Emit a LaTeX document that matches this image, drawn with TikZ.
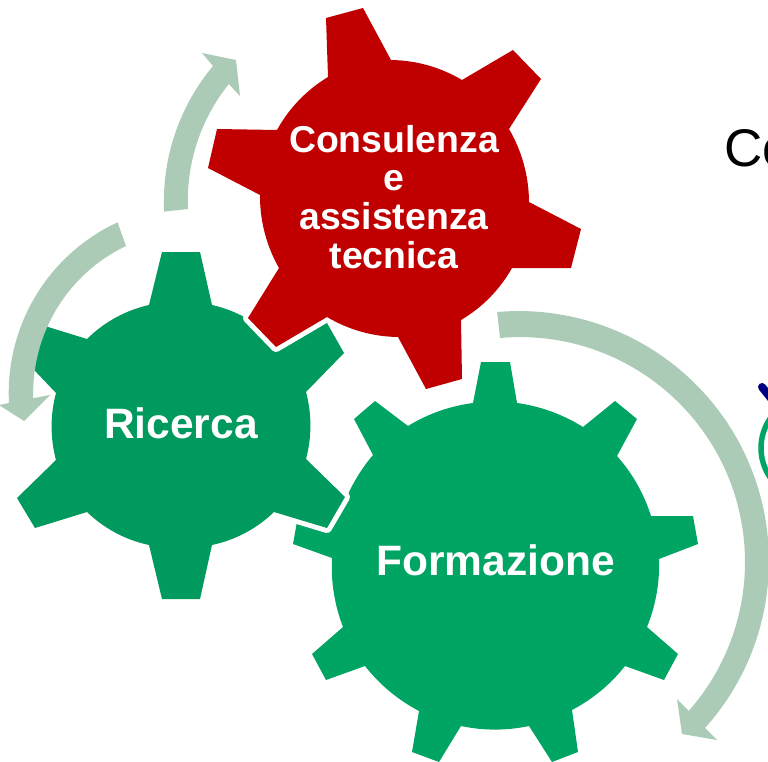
\documentclass[tikz,border=0pt]{standalone}
\usepackage{fontspec}
\setmainfont{Liberation Sans}
\definecolor{redgear}{HTML}{C00000}
\definecolor{greendark}{HTML}{009A5E}
\definecolor{greenlight}{HTML}{00A463}
\definecolor{arrowgreen}{HTML}{ACCBB7}
\definecolor{navyline}{HTML}{000080}
\tikzset{
  x=1pt,y=1pt,
  garc/.style={bend left=#1,looseness=.87},
  cutgear/.style={preaction={draw=white,line width=10pt,line join=round}},
  bigarrow/.style={fill=arrowgreen,draw=none},
  gearlabel/.style={text=white,font=\bfseries\fontsize{42.5}{42.5}\selectfont,anchor=base,inner sep=0pt},
}
\begin{document}
\begin{tikzpicture}
\useasboundingbox (0,0) rectangle (768,-762);
\clip (0,0) rectangle (768,-762);
% Formazione gear
\fill[greenlight] (473,-403) -- (481,-362) -- (510,-362) -- (517,-403)
  to[garc=12] (583,-427) -- (615,-401) -- (637,-419) -- (617,-456)
  to[garc=12] (651,-516) -- (693,-516) -- (698,-544) -- (659,-559)
  to[garc=12] (647,-627) -- (678,-654) -- (664,-680) -- (625,-666)
  to[garc=12] (572,-710) -- (578,-752) -- (552,-762) -- (529,-726)
  to[garc=12] (461,-726) -- (439,-762) -- (412,-752) -- (419,-711)
  to[garc=12] (365,-666) -- (326,-680) -- (312,-654) -- (343,-627)
  to[garc=12] (332,-558) -- (293,-544) -- (298,-516) -- (340,-516)
  to[garc=12] (373,-455) -- (354,-419) -- (375,-401) -- (408,-426)
  to[garc=12] cycle;
% Ricerca gear
\fill[greendark,cutgear] (162,-252) -- (200,-252) -- (212,-305)
  to[garc=16] (274,-339) -- (327,-323) -- (344,-353) -- (306,-392)
  to[garc=15] (306,-459) -- (345,-497) -- (327,-528) -- (274,-512)
  to[garc=16] (212,-545) -- (200,-599) -- (162,-599) -- (149,-545)
  to[garc=16] (87,-512) -- (35,-528) -- (17,-498) -- (56,-460)
  to[garc=15] (56,-393) -- (18,-353) -- (35,-323) -- (87,-339)
  to[garc=16] (149,-305) -- cycle;
% Consulenza gear
\fill[redgear,cutgear] (326,-18) -- (363,-8) -- (391,-60)
  to[garc=15] (462,-80) -- (513,-50) -- (541,-79) -- (509,-129)
  to[garc=15] (529,-202) -- (581,-229) -- (571,-268) -- (512,-268)
  to[garc=15] (461,-320) -- (462,-379) -- (426,-389) -- (398,-337)
  to[garc=15] (327,-317) -- (276,-347) -- (248,-318) -- (279,-268)
  to[garc=15] (260,-195) -- (208,-168) -- (217,-129) -- (277,-130)
  to[garc=15] (328,-77) -- cycle;
% circular arrows
\fill[bigarrow] (188,-209) arc[start angle=182.6,end angle=141.2,radius=186]
  -- (240,-96) -- (236,-60) -- (202,-53) -- (213,-66)
  arc[start angle=140.1,end angle=182.8,radius=211] -- cycle;
\fill[bigarrow] (126,-246) arc[start angle=115.5,end angle=181.8,radius=163]
  -- (50,-395) -- (24,-421) -- (-1,-405) -- (9,-403)
  arc[start angle=183.1,end angle=114.9,radius=188] -- cycle;
\fill[bigarrow] (500,-338) arc[start angle=95.1,end angle=-41.4,radius=225]
  -- (677,-699) -- (682,-734) -- (717,-740) -- (705,-728)
  arc[start angle=-41.9,end angle=95,radius=250] -- cycle;
% labels
\node[gearlabel] (ricerca) at (181,-438.5) {Ricerca};
\node[gearlabel] (formazione) at (495.5,-575) {Formazione};
\node[text=white,font=\bfseries\fontsize{37.4}{38.7}\selectfont,align=center,inner sep=0pt] (consulenza) at (394,-196.8)
  {Consulenza\\e\\assistenza\\tecnica};
% partly visible elements at the right edge
\node[anchor=base west,inner sep=0pt,font=\fontsize{53}{53}\selectfont] (cut) at (724,-167) {Co};
\draw[navyline,line width=8pt,line cap=round] (762,-387) -- (778,-407);
\draw[greenlight,line width=5.5pt] (813,-448) circle[radius=52];
\end{tikzpicture}
\end{document}
